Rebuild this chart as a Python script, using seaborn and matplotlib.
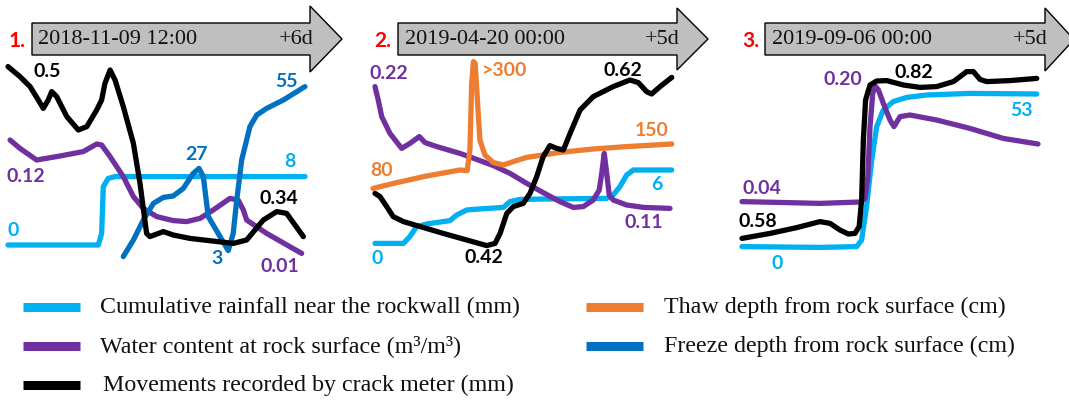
import matplotlib
matplotlib.use("Agg")
import matplotlib.pyplot as plt
import numpy as np
import pandas as pd
import seaborn as sns
from matplotlib.patches import Polygon

# ---------------- DATA (time in hours from event start, level = normalised 0-100) -------------
# Panel 1: 2018-11-09 12:00, +6d
p1_rain_t = [0, 43.8, 45.4, 46.2, 48.6, 51.9, 144]
p1_rain_v = [7.5, 7.5, 13.3, 36.7, 40.8, 41.7, 41.7]
p1_water_t = [1.0, 5.8, 13.9, 25.2, 36.5, 43.0, 45.4, 49.5, 55.9, 60.8, 65.6, 72.1, 80.1, 86.6,
              93.1, 99.5, 107.6, 111.6, 114.1, 115.7, 125.4, 142.4]
p1_water_v = [60, 55.8, 50, 52, 54.2, 58, 57.5, 51.7, 41.7, 31.7, 25.8, 21.7, 19.7, 19.2,
              20.8, 25, 30.8, 30, 25, 20, 13.3, 3.3]
p1_freeze_t = [55.9, 60.8, 65.6, 70.5, 75.3, 80.1, 85.0, 89.8, 92.6, 94.7, 97.1, 102.8, 106.8,
               109.2, 110.9, 113.3, 117.3, 120.6, 125.4, 133.5, 144]
p1_freeze_v = [1.7, 10, 20, 28.3, 31.3, 32, 35.8, 43.3, 45.8, 41.7, 21.7, 11.7, 4.7,
               13.3, 30, 50, 66.7, 72.5, 75.8, 80, 86.7]
p1_crack_t = [0, 5.8, 10.7, 14.7, 17.1, 19.5, 21.2, 23.6, 28.5, 34.1, 38.2, 43.0, 45.4, 47.0,
              49.5, 51.9, 55.9, 60.8, 64.0, 67.2, 68.8, 75.3, 80.1, 88.2, 109.2, 115.7, 123.8,
              130.3, 135.1, 143.2]
p1_crack_v = [96.7, 91.7, 86.7, 80, 75.8, 80, 84.2, 81.7, 71.7, 65, 66.7, 75, 80, 88.3,
              95, 90, 76.7, 58.3, 38.3, 13.3, 11.7, 14.2, 12.5, 10.8, 8.3, 10, 20,
              24.2, 23.3, 11.7]
p1_labels = ["0.5", "0.12", "0", "27", "8", "0.34", "3", "0.01", "55"]
p1_label_series = ["crack", "water", "rain", "freeze", "rain", "crack", "freeze", "water", "freeze"]

# Panel 2: 2019-04-20 00:00, +5d
p2_rain_t = [0.8, 12.2, 14.8, 17.5, 21.5, 30.9, 33.6, 37.6, 40.3, 52.3, 55.0, 59.0, 69.7,
             93.8, 96.4, 99.1, 101.8, 104.5, 119.9]
p2_rain_v = [8.3, 8.3, 11.7, 16.7, 18, 19.7, 22.5, 25, 25.3, 26.3, 29.2, 30.3, 30.5,
             30.8, 32.5, 36.7, 42.5, 45, 45]
p2_water_t = [0.8, 2.1, 3.5, 6.8, 11.5, 14.8, 18.6, 20.9, 25.6, 34.9, 41.6, 48.3, 55.0, 61.7,
              68.3, 75.0, 80.4, 84.4, 88.4, 90.8, 91.8, 92.8, 93.8, 94.8, 96.4, 101.8, 108.5, 119.2]
p2_water_v = [86.7, 80, 71.7, 63.3, 55.8, 58.3, 61.7, 58.7, 56.7, 53.3, 50.3, 47.2, 43.3, 38.3,
              33.7, 29.2, 26.3, 26.7, 30, 35, 43.3, 53.3, 43.3, 32.5, 30, 27.5, 26.3, 25.8]
p2_thaw_t = [0, 8.2, 21.5, 34.9, 37.8, 38.9, 39.6, 40.3, 41.0, 41.9, 42.9, 44.9, 48.3, 52.3,
             56.3, 61.7, 75.0, 88.4, 101.8, 119.9]
p2_thaw_v = [35.8, 38.3, 42, 45, 44.7, 55, 88.3, 99.2, 98.3, 80, 60, 52.5, 48.7, 47.5,
             49.2, 51.3, 53.8, 55.5, 56.7, 58]
p2_crack_t = [0.8, 2.8, 5.5, 8.1, 12.2, 28.2, 45.6, 49.0, 51.0, 53.7, 56.3, 60.3, 63.0, 65.7,
              68.3, 71.0, 73.7, 76.4, 79.1, 83.1, 88.4, 96.4, 103.1, 106.5, 109.8, 111.8,
              115.2, 119.9]
p2_crack_v = [33.3, 31.7, 26.7, 21.7, 19.2, 13.3, 7.2, 8.3, 13.3, 23.3, 26.7, 28.3, 33.3, 41.7,
              51.7, 57.2, 55.8, 55, 63.3, 75, 81.7, 86.7, 90, 88.7, 84.2, 83,
              86.7, 91.3]
p2_labels = ["0.22", "80", "0", "0.42", ">300", "0.62", "150", "6", "0.11"]
p2_label_series = ["water", "thaw", "rain", "crack", "thaw", "crack", "thaw", "rain", "water"]

# Panel 3: 2019-09-06 00:00, +5d
p3_rain_t = [0, 31.6, 46.5, 48.5, 50.5, 52.6, 54.6, 57.3, 61.3, 66.8, 74.9, 92.4, 119.5]
p3_rain_v = [6.7, 6.3, 6.7, 10, 26.7, 50, 66.7, 75, 79.2, 81.3, 82.5, 83.3, 83]
p3_water_t = [0, 18.1, 31.6, 47.8, 49.9, 51.0, 51.9, 53.0, 54.0, 55.3, 57.3, 60.0, 61.6,
              64.1, 68.1, 78.9, 92.4, 105.9, 120]
p3_water_v = [29.2, 28.7, 28.3, 29, 30.8, 41.7, 66.7, 83.3, 87, 85, 78.3, 70, 66.7,
              71.7, 72.5, 70, 65.8, 60.8, 58]
p3_crack_t = [0, 11.4, 22.2, 31.6, 35.7, 39.7, 43.1, 45.8, 47.5, 48.5, 49.2, 50.1, 51.9, 54.6,
              58.7, 65.4, 72.2, 78.9, 85.7, 91.1, 93.8, 96.5, 99.2, 108.6, 119.5]
p3_crack_v = [10.8, 13.3, 16.2, 19.2, 18.3, 15, 13, 13.3, 16.7, 30, 60, 80, 87.5, 89.5,
              89.7, 87.5, 86.3, 86.7, 89.2, 94.2, 94.2, 90.3, 89.2, 89.7, 90.8]
p3_labels = ["0.20", "0.82", "53", "0.04", "0.58", "0"]
p3_label_series = ["water", "crack", "rain", "water", "crack", "rain"]

panel_numbers = ["1.", "2.", "3."]
panel_starts = ["2018-11-09 12:00", "2019-04-20 00:00", "2019-09-06 00:00"]
panel_spans = ["+6d", "+5d", "+5d"]
panel_hours = [144, 120, 120]

series_order = ["rain", "water", "thaw", "freeze", "crack"]
legend_labels = {
    "rain": "Cumulative rainfall near the rockwall (mm)",
    "water": "Water content at rock surface (m\u00b3/m\u00b3)",
    "crack": "Movements recorded by crack meter (mm)",
    "thaw": "Thaw depth from rock surface (cm)",
    "freeze": "Freeze depth from rock surface (cm)",
}

# ---------------- STYLE / LAYOUT -------------
colors = {"rain": "#00B0F0", "water": "#7030A0", "thaw": "#ED7D31",
          "freeze": "#0070C0", "crack": "#000000"}

sns.set_theme(style="white")
plt.rcParams["font.family"] = ["Liberation Serif", "DejaVu Serif"]

W, H = 1069, 400
fig = plt.figure(figsize=(W / 100, H / 100), dpi=100)
fig.patch.set_facecolor("white")

# panel axes in pixel layout: (origin_x, span_px)
panel_geom = [(8, 297), (373, 299), (742, 296)]
y_bottom_px, y_top_px = 260, 60

label_pos = [
    [(18.8, 94.2), (8.7, 42), (2.3, 15), (91.5, 52.5), (136.7, 49.2), (131.1, 30.8),
     (101.2, 0.8), (131.9, -3.3), (135.1, 89.2)],
    [(6.2, 93.3), (3.5, 44.7), (1.5, 0.8), (44.3, 1.3), (53.0, 95), (100.4, 95),
     (111.8, 64.5), (113.8, 37.5), (108.5, 18.7)],
    [(41.0, 90.3), (69.5, 93.7), (113.4, 75), (8.0, 35.8), (6.6, 19.2), (14.1, -1.7)],
]

panels = [
    {"rain": (p1_rain_t, p1_rain_v), "water": (p1_water_t, p1_water_v),
     "freeze": (p1_freeze_t, p1_freeze_v), "crack": (p1_crack_t, p1_crack_v)},
    {"rain": (p2_rain_t, p2_rain_v), "water": (p2_water_t, p2_water_v),
     "thaw": (p2_thaw_t, p2_thaw_v), "crack": (p2_crack_t, p2_crack_v)},
    {"rain": (p3_rain_t, p3_rain_v), "water": (p3_water_t, p3_water_v),
     "crack": (p3_crack_t, p3_crack_v)},
]
panel_labels = [(p1_labels, p1_label_series), (p2_labels, p2_label_series),
                (p3_labels, p3_label_series)]

label_font = ["Lato", "DejaVu Sans"]

for i, (ox, span) in enumerate(panel_geom):
    ax = fig.add_axes([ox / W, (H - y_bottom_px) / H, span / W, (y_bottom_px - y_top_px) / H])
    ax.set_facecolor("none")
    rows = []
    for s in series_order:
        if s in panels[i]:
            t, v = panels[i][s]
            rows.append(pd.DataFrame({"t": t, "level": v, "series": s}))
    df = pd.concat(rows, ignore_index=True)
    hue_order = [s for s in series_order if s in panels[i]]
    sns.lineplot(data=df, x="t", y="level", hue="series", hue_order=hue_order,
                 palette=colors, sort=False, estimator=None, legend=False,
                 linewidth=3.8, solid_joinstyle="round", clip_on=False, ax=ax)
    ax.set_xlim(0, panel_hours[i])
    ax.set_ylim(0, 100)
    ax.axis("off")
    texts, sers = panel_labels[i]
    for txt, s, (tx, ty) in zip(texts, sers, label_pos[i]):
        ax.text(tx, ty, txt, color=colors[s], fontsize=14, fontweight="bold",
                family=label_font, ha="center", va="center", clip_on=False)

# overlay axes for arrows, numbers and legend (pixel coordinates)
ov = fig.add_axes([0, 0, 1, 1])
ov.set_xlim(0, W)
ov.set_ylim(H, 0)
ov.axis("off")
ov.set_facecolor("none")

arrow_geom = [  # rect_left, rect_right, tip, head_top, head_bottom, num_x, date_x, span_x
    (32, 310, 342, 6, 72, 17, 38, 314),
    (398, 677, 708, 8, 70, 383, 405, 680),
    (765, 1045, 1074, 8, 71, 751, 772, 1048),
]
rect_top, rect_bot, mid = 23, 55, 39
for i, (rl, rr, tip, ht, hb, nx, dx, sx) in enumerate(arrow_geom):
    poly = Polygon([(rl, rect_top), (rr, rect_top), (rr, ht), (tip, (ht + hb) / 2),
                    (rr, hb), (rr, rect_bot), (rl, rect_bot)], closed=True,
                   facecolor="#BFBFBF", edgecolor="black", linewidth=1.0)
    ov.add_patch(poly)
    ov.text(dx, mid + 1, panel_starts[i], fontsize=16, ha="left", va="center", color="#111111")
    ov.text(sx, mid + 1, panel_spans[i], fontsize=16, ha="right", va="center", color="#111111")
    ov.text(nx, mid + 2, panel_numbers[i], fontsize=15, fontweight="bold", color="red",
            family=label_font, ha="center", va="center")

# legend
legend_layout = [("rain", 23, 100, 307), ("water", 23, 100, 346), ("crack", 23, 103, 385),
                 ("thaw", 586, 664, 307), ("freeze", 586, 664, 346)]
for s, lx, tx, ly in legend_layout:
    ov.plot([lx, lx + 57], [ly, ly], color=colors[s], linewidth=6.5, solid_capstyle="butt")
    ov.text(tx, ly, legend_labels[s], fontsize=17.3, ha="left", va="center", color="#111111")

fig.savefig("out.png", dpi=100, facecolor="white")
